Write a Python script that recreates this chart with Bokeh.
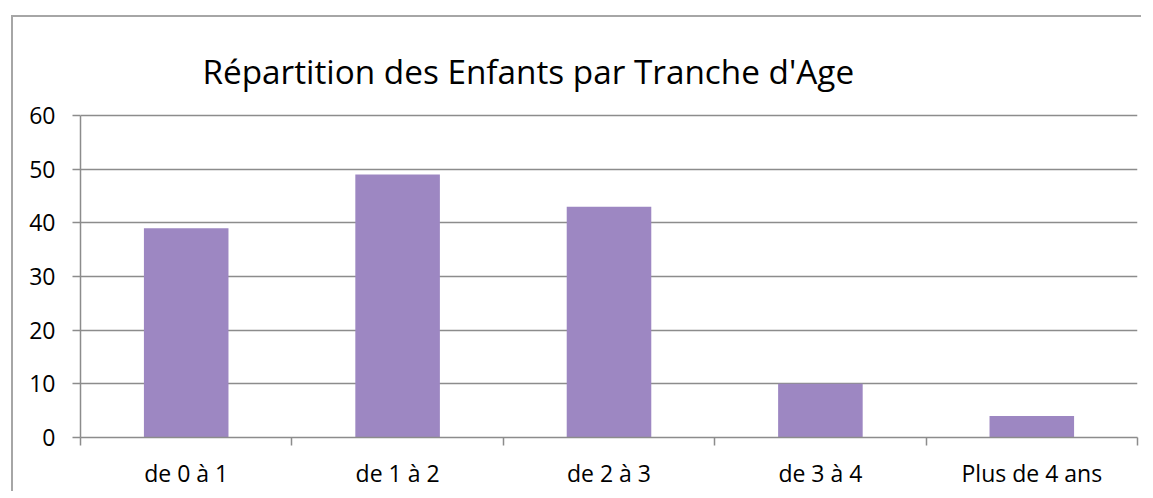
from bokeh.plotting import figure
from bokeh.models import Range1d, LinearAxis, FixedTicker, ColumnDataSource, Label
from bokeh.embed import file_html
from bokeh.resources import INLINE

categories = ["de 0 à 1", "de 1 à 2", "de 2 à 3", "de 3 à 4", "Plus de 4 ans"]
counts = [39, 49, 43, 10, 4]
y_ticks = [0, 10, 20, 30, 40, 50, 60]
title_text = "Répartition des Enfants par Tranche d'Age"

FONT = "Open Sans"
GRAY = "#8c8c8c"
BAR = "#9d87c2"

n_cat = len(categories)
centers = [i + 0.5 for i in range(n_cat)]
bounds = list(range(n_cat + 1))
y_max = y_ticks[-1]
# headroom above the value axis where the chart title sits (fraction of axis height)
top_room = 98 / 322

source = ColumnDataSource(data=dict(x=centers, n=counts, cat=categories))

p = figure(
    width=1130, height=476,
    x_range=Range1d(0, n_cat), y_range=Range1d(0, y_max * (1 + top_room)),
    output_backend="svg", toolbar_location=None, tools="",
    min_border_left=67, min_border_right=6, min_border_top=0, min_border_bottom=56,
    x_axis_location=None,
)
# outer chart border (only top and left edges are visible in the crop)
p.margin = (17, 0, 0, 13)
p.styles = {"box-shadow": "-2px -2px 0px 0px #a6a6a6"}

p.vbar(x="x", top="n", width=0.4, source=source, fill_color=BAR, line_color=None)

# chart title, inside the headroom of the frame
title = Label(x=0.577, y=y_max * (1 + top_room * 45 / 98), text=title_text, text_font=FONT,
              text_font_size="33.3px", text_color="#000000",
              text_baseline="alphabetic", text_align="left")
p.add_layout(title)

p.outline_line_color = None
p.background_fill_color = "white"
p.border_fill_color = "white"

# grid
p.xgrid.grid_line_color = None
p.ygrid.ticker = FixedTicker(ticks=y_ticks)
p.ygrid.grid_line_color = GRAY
p.ygrid.grid_line_width = 1.5

# y axis
yax = p.yaxis[0]
yax.ticker = FixedTicker(ticks=y_ticks)
yax.bounds = (0, y_max)
yax.axis_line_color = GRAY
yax.axis_line_width = 1.5
yax.major_tick_line_color = GRAY
yax.major_tick_line_width = 1.5
yax.major_tick_out = 8
yax.major_tick_in = 0
yax.minor_tick_line_color = None
yax.major_label_text_font = FONT
yax.major_label_text_font_size = "23px"
yax.major_label_text_color = "#000000"
yax.major_label_standoff = 17

# tick axis at category boundaries
tick_axis = LinearAxis(ticker=FixedTicker(ticks=bounds))
tick_axis.axis_line_color = GRAY
tick_axis.axis_line_width = 1.5
tick_axis.major_tick_line_color = GRAY
tick_axis.major_tick_line_width = 1.5
tick_axis.major_tick_out = 8
tick_axis.major_tick_in = 0
tick_axis.minor_tick_line_color = None
tick_axis.major_label_text_font_size = "0px"
tick_axis.major_label_text_color = None
tick_axis.major_label_standoff = 0
p.add_layout(tick_axis, "below")

# category labels at centers
label_axis = LinearAxis(ticker=FixedTicker(ticks=centers))
label_axis.major_label_overrides = {c: lab for c, lab in zip(centers, categories)}
label_axis.axis_line_color = None
label_axis.major_tick_line_color = None
label_axis.major_tick_out = 0
label_axis.major_tick_in = 0
label_axis.minor_tick_line_color = None
label_axis.major_label_text_font = FONT
label_axis.major_label_text_font_size = "23px"
label_axis.major_label_text_color = "#000000"
label_axis.major_label_standoff = 11
p.add_layout(label_axis, "below")

open("out.html", "w").write(file_html(p, INLINE))
